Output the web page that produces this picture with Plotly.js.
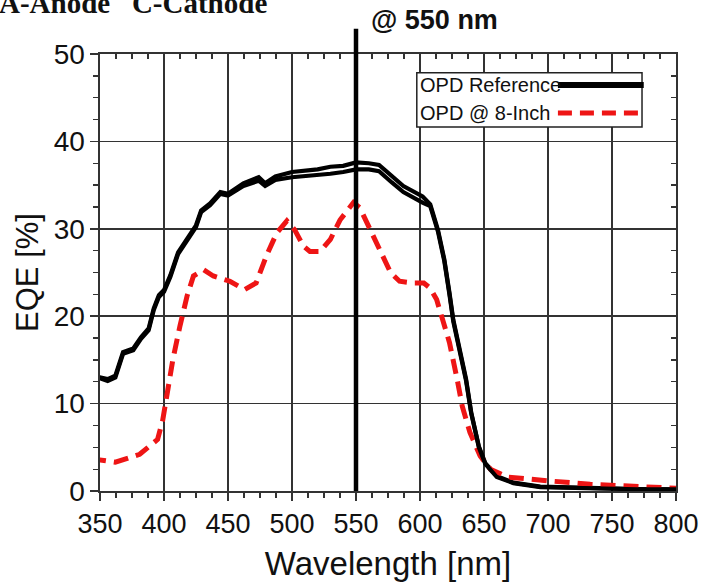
<!DOCTYPE html>
<html>
<head>
<meta charset="utf-8">
<script src="https://cdn.plot.ly/plotly-3.0.1.min.js"></script>
<style>html,body{margin:0;padding:0;background:#fff;}#chart{width:702px;height:584px;}</style>
</head>
<body>
<div id="chart"></div>
<script>
// OPD Reference (drawn as a double black line: upper and lower trace)
const refWavelength = [345,350,356,362,368,376,382,388,392,396,400,405,411,420,425,429,436,444,450,462,470,474,479,487,500,510,520,530,540,550,560,568,578,587,602,608,614,619,623,626,636,640,646,651,660,673,694,733,770,800];
const refUpper      = [12.9,13.0,12.8,13.2,15.9,16.3,17.6,18.6,20.9,22.4,23.0,24.7,27.3,29.4,30.4,32.1,32.9,34.2,34.0,35.2,35.6,35.9,35.2,36.0,36.5,36.6,36.8,37.1,37.2,37.6,37.5,37.3,36.0,34.9,33.7,32.8,29.9,26.5,22.7,19.6,12.8,9.0,5.1,3.2,1.7,0.95,0.5,0.3,0.22,0.2];
const refLower      = [12.8,12.9,12.6,13.0,15.7,16.1,17.4,18.4,20.7,22.2,22.8,24.5,27.1,29.2,30.2,31.9,32.7,34.0,33.8,34.9,35.3,35.5,34.9,35.6,35.9,36.0,36.1,36.3,36.5,36.8,36.8,36.6,35.3,34.2,33.0,32.6,29.7,26.3,22.5,19.4,12.6,8.9,5.0,3.1,1.6,0.9,0.45,0.28,0.2,0.18];

// OPD @ 8-Inch
const inchWavelength = [343,350,362,381,391,395,399,402,407,412.5,418,423,431,438.5,451.5,463,472,480,488,496,502,509,514,522,530,537.5,548,553,561,569,577,584,595,603,608,613,618,623,629,633,639,647,655,668,702,733,772,806];
const inchEQE        = [3.7,3.6,3.3,4.2,5.3,5.9,8.1,10.9,15.1,18.9,22.3,24.6,25.3,24.6,24.0,23.05,23.8,26.9,29.5,30.9,29.9,28.0,27.4,27.4,28.8,31.0,33.0,32.4,29.9,27.2,25.0,24.0,23.8,23.8,23.2,21.9,19.6,17.0,12.8,9.7,6.7,4.0,2.5,1.6,1.14,0.77,0.5,0.27];

const xTickVals = [350,400,450,500,550,600,650,700,750,800];
const yTickVals = [0,10,20,30,40,50];
const xRange = [350, 800];
const yRange = [0, 50];
const markerWavelength = 550;
const seriesNames = ["OPD Reference", "OPD @ 8-Inch"];

const FONT = "Liberation Sans, Arial, sans-serif";
const AX = "#333";
const RED = "#ee1515";

const traces = [
  {x: refWavelength, y: refUpper, mode: "lines", line: {color: "#000", width: 4.2}, showlegend: false, name: seriesNames[0]},
  {x: refWavelength, y: refLower, xaxis: "x2", yaxis: "y2", mode: "lines", line: {color: "#000", width: 4.2}, showlegend: false, name: seriesNames[0]},
  {x: inchWavelength, y: inchEQE, mode: "lines", line: {color: RED, width: 5, dash: "15px,8px"}, showlegend: false, name: seriesNames[1]}
];

const axCommon = {
  showline: true, linecolor: AX, linewidth: 1.6,
  zeroline: false
};

const layout = {
  width: 702, height: 584,
  margin: {l: 100, r: 26, t: 54, b: 93},
  paper_bgcolor: "#fff", plot_bgcolor: "#fff",
  showlegend: false,
  font: {family: FONT, color: "#111"},
  xaxis: Object.assign({}, axCommon, {
    range: xRange, tickvals: xTickVals, ticktext: xTickVals.map(String),
    ticks: "outside", ticklen: 8, tickwidth: 1.6, tickcolor: AX,
    showgrid: true, gridcolor: AX, gridwidth: 1.6,
    tickfont: {family: FONT, size: 27, color: "#111"},
    minor: {tick0: 350, dtick: 12.5, ticks: "outside", ticklen: 5, tickwidth: 1.3, tickcolor: AX, showgrid: false},
    title: {text: "Wavelength [nm]", font: {family: FONT, size: 33, color: "#111"}, standoff: 14}
  }),
  yaxis: Object.assign({}, axCommon, {
    range: yRange, tickvals: yTickVals, ticktext: yTickVals.map(String),
    ticks: "outside", ticklen: 8, tickwidth: 1.6, tickcolor: AX,
    showgrid: true, gridcolor: AX, gridwidth: 1.6,
    tickfont: {family: FONT, size: 28, color: "#111"},
    minor: {tick0: 0, dtick: 2.5, ticks: "outside", ticklen: 5, tickwidth: 1.3, tickcolor: AX, showgrid: false},
    title: {text: "EQE [%]", font: {family: FONT, size: 31, color: "#111"}, standoff: 6}
  }),
  xaxis2: Object.assign({}, axCommon, {
    overlaying: "x", side: "top", anchor: "y2", range: xRange,
    showticklabels: false, showgrid: false, ticks: "inside", ticklen: 5, tickwidth: 1.3, tickcolor: AX, dtick: 50, tick0: 350,
    minor: {tick0: 350, dtick: 12.5, ticks: "inside", ticklen: 5, tickwidth: 1.3, tickcolor: AX, showgrid: false}
  }),
  yaxis2: Object.assign({}, axCommon, {
    overlaying: "y", side: "right", anchor: "x2", range: yRange,
    showticklabels: false, showgrid: false, ticks: "inside", ticklen: 5, tickwidth: 1.3, tickcolor: AX, dtick: 10, tick0: 0,
    minor: {tick0: 0, dtick: 2.5, ticks: "inside", ticklen: 5, tickwidth: 1.3, tickcolor: AX, showgrid: false}
  }),
  shapes: [
    {type: "line", xref: "x", yref: "paper", x0: markerWavelength, x1: markerWavelength, y0: 0, y1: 1.058, line: {color: "#000", width: 4.5}, layer: "above"},
    {type: "rect", xref: "paper", yref: "paper", x0: 0.550, x1: 0.941, y0: 0.833, y1: 0.957, fillcolor: "#fff", line: {color: "#222", width: 1.5}, layer: "above"},
    {type: "line", xref: "paper", yref: "paper", x0: 0.795, x1: 0.944, y0: 0.929, y1: 0.929, line: {color: "#000", width: 6}, layer: "above"},
    {type: "line", xref: "paper", yref: "paper", x0: 0.795, x1: 0.944, y0: 0.865, y1: 0.865, line: {color: RED, width: 5, dash: "14px,8px"}, layer: "above"}
  ],
  annotations: [
    {xref: "paper", yref: "paper", x: 0.552, y: 0.929, xanchor: "left", yanchor: "middle", showarrow: false, text: seriesNames[0], font: {family: FONT, size: 20, color: "#111"}},
    {xref: "paper", yref: "paper", x: 0.552, y: 0.865, xanchor: "left", yanchor: "middle", showarrow: false, text: seriesNames[1], font: {family: FONT, size: 20, color: "#111"}},
    {xref: "x", yref: "paper", x: markerWavelength, xshift: 13, y: 1.078, xanchor: "left", yanchor: "middle", showarrow: false, text: "<b>@ 550 nm</b>", font: {family: FONT, size: 27, color: "#111"}},
    {xref: "paper", yref: "paper", x: -0.178, y: 1.117, xanchor: "left", yanchor: "middle", showarrow: false, text: "<b>A-Anode   C-Cathode</b>", font: {family: "Liberation Serif, Times New Roman, serif", size: 29, color: "#111"}}
  ]
};

Plotly.newPlot("chart", traces, layout, {staticPlot: true, displayModeBar: false});
</script>
</body>
</html>
